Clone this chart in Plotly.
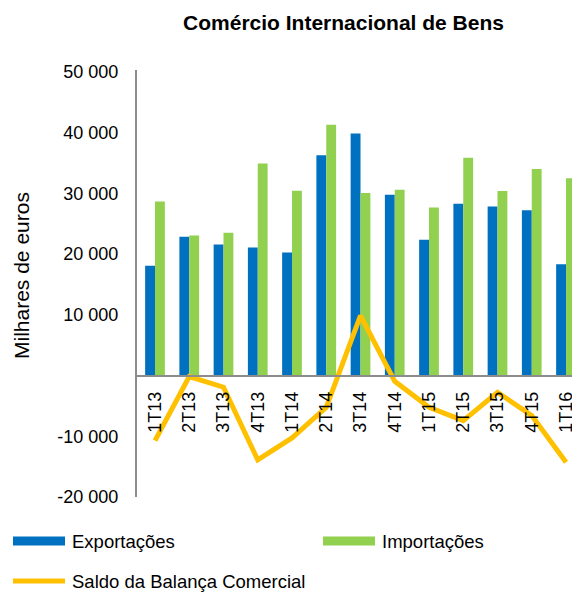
import plotly.graph_objects as go

categories = ["1T13", "2T13", "3T13", "4T13", "1T14", "2T14", "3T14", "4T14",
              "1T15", "2T15", "3T15", "4T15", "1T16"]
exportacoes = [18080, 22860, 21600, 21100, 20280, 36270, 39890, 29790,
               22370, 28300, 27860, 27250, 18350]
importacoes = [28680, 23080, 23520, 34950, 30450, 41330, 30060, 30610,
               27700, 35890, 30390, 34010, 32480]
saldo = [-10720, -160, -1920, -13900, -10270, -5220, 9890, -940,
         -5220, -7420, -2750, -6600, -14290]
y_ticks = [-20000, -10000, 0, 10000, 20000, 30000, 40000, 50000]
y_ticktext = ["-20 000", "-10 000", "", "10 000", "20 000", "30 000", "40 000", "50 000"]
series_names = ["Exportações", "Importações", "Saldo da Balança Comercial"]

BLUE = "#0070C0"
GREEN = "#92D050"
ORANGE = "#FFC000"
AXIS = "#8C8C8C"
FONT = "Liberation Sans, Arial, sans-serif"

# the page body has an 8px margin, so the figure is placed at (8, 8);
# the visible page width ends at x = 572
OFF = 8
W, H = 580 - OFF, 593 - OFF
ML, MT = 137 - OFF, 70 - OFF
MR = 580 - 572
MB = H - (497 - OFF)
PW = W - ML - MR
PH = H - MT - MB
Y_RANGE = [-20000, 50330]
X_RANGE = [-0.5255, 12.175]
zero_frac = (0 - Y_RANGE[0]) / (Y_RANGE[1] - Y_RANGE[0])


def px_x(px):
    return (px - OFF - ML) / PW


def px_y(py):
    return (H - MB - (py - OFF)) / PH


fig = go.Figure()
fig.add_trace(go.Bar(x=categories, y=exportacoes, name=series_names[0],
                     marker=dict(color=BLUE, line=dict(width=0))))
fig.add_trace(go.Bar(x=categories, y=importacoes, name=series_names[1],
                     marker=dict(color=GREEN, line=dict(width=0))))
fig.add_trace(go.Scatter(x=categories, y=saldo, name=series_names[2],
                         mode="lines", line=dict(color=ORANGE, width=5)))

ROW1, ROW2 = 541, 581
shapes = [
    dict(type="rect", xref="paper", yref="paper", x0=px_x(13), x1=px_x(65),
         y0=px_y(ROW1 + 4.5), y1=px_y(ROW1 - 4.5), fillcolor=BLUE, line=dict(width=0)),
    dict(type="rect", xref="paper", yref="paper", x0=px_x(323), x1=px_x(375),
         y0=px_y(ROW1 + 4.5), y1=px_y(ROW1 - 4.5), fillcolor=GREEN, line=dict(width=0)),
    dict(type="line", xref="paper", yref="paper", x0=px_x(13), x1=px_x(65),
         y0=px_y(ROW2), y1=px_y(ROW2), line=dict(color=ORANGE, width=5)),
]
leg_font = dict(family=FONT, size=18.5, color="#000000")
annotations = [
    dict(text=series_names[0], xref="paper", yref="paper", x=px_x(70), y=px_y(ROW1),
         xanchor="left", yanchor="middle", showarrow=False, font=leg_font),
    dict(text=series_names[1], xref="paper", yref="paper", x=px_x(380), y=px_y(ROW1),
         xanchor="left", yanchor="middle", showarrow=False, font=leg_font),
    dict(text=series_names[2], xref="paper", yref="paper", x=px_x(70), y=px_y(ROW2),
         xanchor="left", yanchor="middle", showarrow=False, font=leg_font),
    dict(text="Milhares de euros", textangle=-90, xref="paper", yref="paper",
         x=px_x(21), y=px_y(276), xanchor="center", yanchor="middle", showarrow=False,
         font=dict(family=FONT, size=21, color="#000000")),
]

fig.update_layout(
    width=W, height=H,
    margin=dict(l=ML, r=MR, t=MT, b=MB, pad=0),
    paper_bgcolor="white", plot_bgcolor="white",
    showlegend=False,
    font=dict(family=FONT, size=18, color="#000000"),
    title=dict(text="<b>Comércio Internacional de Bens</b>", x=(343.5 - OFF) / W, xanchor="center",
               y=1 - (23 - OFF) / H, yanchor="middle",
               font=dict(family=FONT, size=21, color="#000000")),
    barmode="group", bargap=0.424, bargroupgap=0,
    xaxis=dict(range=X_RANGE, anchor="free", position=zero_frac,
               showline=True, linecolor=AXIS, linewidth=2, showgrid=False, zeroline=False,
               ticks="", tickangle=-90, ticklabelstandoff=8, automargin=False,
               tickfont=dict(family=FONT, size=18, color="#000000")),
    yaxis=dict(range=Y_RANGE, tickvals=y_ticks, ticktext=y_ticktext,
               showline=True, linecolor=AXIS, linewidth=2, showgrid=False, zeroline=False,
               ticks="", ticklabelstandoff=13, automargin=False,
               tickfont=dict(family=FONT, size=18, color="#000000")),
    shapes=shapes,
    annotations=annotations,
)

fig.write_html("out.html")
